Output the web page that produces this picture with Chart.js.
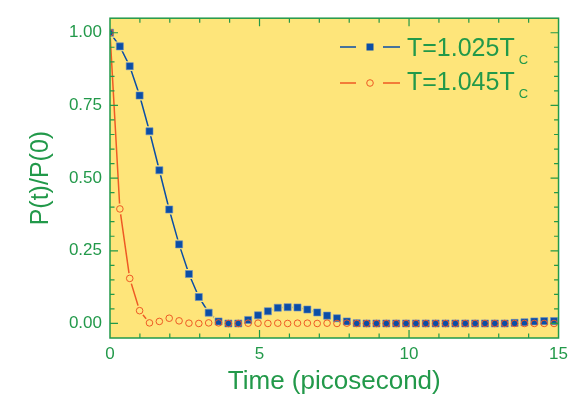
<!DOCTYPE html>
<html>
<head>
<meta charset="utf-8">
<script src="https://cdn.jsdelivr.net/npm/chart.js@4.4.1/dist/chart.umd.min.js"></script>
<style>
  html, body { margin: 0; padding: 0; background: #fff; }
</style>
</head>
<body>
<canvas id="myChart" width="574" height="399"></canvas>
<script>
// time axis (picosecond)
const times = [0, 0.33, 0.66, 0.99, 1.32, 1.65, 1.98, 2.31, 2.64, 2.97,
  3.3, 3.63, 3.96, 4.29, 4.62, 4.95, 5.28, 5.61, 5.94, 6.27,
  6.6, 6.93, 7.26, 7.59, 7.92, 8.25, 8.58, 8.91, 9.24, 9.57,
  9.9, 10.23, 10.56, 10.89, 11.22, 11.55, 11.88, 12.21, 12.54, 12.87,
  13.2, 13.53, 13.86, 14.19, 14.52, 14.85];

// T = 1.025 Tc
const pSlow = [1.00, 0.953, 0.885, 0.784, 0.661, 0.527, 0.392, 0.272, 0.170, 0.091,
  0.037, 0.007, 0.000, 0.000, 0.012, 0.028, 0.042, 0.054, 0.056, 0.055,
  0.048, 0.038, 0.027, 0.018, 0.007, 0.001, 0.000, 0.000, 0.000, 0.000,
  0.000, 0.000, 0.000, 0.000, 0.000, 0.000, 0.000, 0.000, 0.000, 0.000,
  0.000, 0.002, 0.004, 0.007, 0.008, 0.008];

// T = 1.045 Tc
const pFast = [1.00, 0.394, 0.155, 0.044, 0.002, 0.007, 0.018, 0.009, 0.001, 0.000,
  0.002, 0.002, 0.000, 0.000, 0.001, 0.001, 0.000, 0.001, 0.000, 0.001,
  0.001, 0.000, 0.001, 0.000, 0.001, 0.000, 0.000, 0.000, 0.000, 0.000,
  0.000, 0.000, 0.000, 0.000, 0.000, 0.000, 0.000, 0.000, 0.000, 0.000,
  0.000, 0.000, 0.000, 0.000, 0.000, 0.000];

const xTicks = [0, 5, 10, 15];
const yTicks = [0, 0.25, 0.5, 0.75, 1.0];
const seriesNames = ['T=1.025T', 'T=1.045T'];

const YELLOW = '#fee57a';
const GREEN = '#22994a';
const BLUE = '#0b4ea6';
const RED = '#ee5a24';
const FONT = "'Liberation Sans', Arial, sans-serif";

function pts(arr) {
  return times.map(function (t, i) { return {x: t, y: arr[i]}; });
}

// yellow plot area
const plotBg = {
  id: 'plotBg',
  beforeDraw(chart) {
    const {ctx, chartArea: a} = chart;
    ctx.save();
    ctx.fillStyle = YELLOW;
    ctx.fillRect(a.left, a.top, a.right - a.left, a.bottom - a.top);
    ctx.restore();
  }
};

// frame with inward ticks on all four sides
const frame = {
  id: 'frame',
  afterDatasetsDraw(chart) {
    const {ctx, chartArea: a, scales} = chart;
    const x = scales.x, y = scales.y;
    ctx.save();
    ctx.strokeStyle = GREEN;
    ctx.lineWidth = 1.5;
    ctx.strokeRect(a.left, a.top, a.right - a.left, a.bottom - a.top);
    ctx.lineWidth = 1.2;
    ctx.beginPath();
    for (let v = 1; v < 15; v++) {
      const px = x.getPixelForValue(v);
      const len = v % 5 === 0 ? 8 : 4.5;
      ctx.moveTo(px, a.bottom); ctx.lineTo(px, a.bottom - len);
      ctx.moveTo(px, a.top); ctx.lineTo(px, a.top + len);
    }
    for (let k = 0; k <= 20; k++) {
      const v = k * 0.05;
      const py = y.getPixelForValue(v);
      const len = k % 5 === 0 ? 8 : 4.5;
      ctx.moveTo(a.left, py); ctx.lineTo(a.left + len, py);
      ctx.moveTo(a.right, py); ctx.lineTo(a.right - len, py);
    }
    ctx.stroke();
    ctx.restore();
  }
};

// legend: line - symbol - line, then label with subscript C
const legendBox = {
  id: 'legendBox',
  afterDraw(chart) {
    const ctx = chart.ctx;
    const rows = [
      {y: 47, color: BLUE, style: 'rect', base: 56},
      {y: 83, color: RED, style: 'circle', base: 90}
    ];
    ctx.save();
    rows.forEach(function (r, i) {
      ctx.strokeStyle = r.color;
      ctx.lineWidth = 1.5;
      ctx.beginPath();
      ctx.moveTo(340, r.y); ctx.lineTo(356, r.y);
      ctx.moveTo(383, r.y); ctx.lineTo(400, r.y);
      ctx.stroke();
      if (r.style === 'rect') {
        ctx.fillStyle = r.color;
        ctx.fillRect(366.5, r.y - 3.5, 7, 7);
      } else {
        ctx.lineWidth = 1;
        ctx.beginPath();
        ctx.arc(370, r.y, 3.3, 0, Math.PI * 2);
        ctx.stroke();
      }
      ctx.fillStyle = GREEN;
      ctx.textBaseline = 'alphabetic';
      ctx.textAlign = 'left';
      ctx.font = '25px ' + FONT;
      ctx.fillText(seriesNames[i], 407, r.base);
      const w = ctx.measureText(seriesNames[i]).width;
      ctx.font = '13px ' + FONT;
      ctx.fillText('C', 407 + w + 4, r.base + 8);
    });
    ctx.restore();
  }
};

const ctx = document.getElementById('myChart');
new Chart(ctx, {
  type: 'line',
  data: {
    datasets: [{
      // blue line, yellow squares mask the line near each symbol
      data: pts(pSlow),
      borderColor: BLUE,
      borderWidth: 1.5,
      pointStyle: 'rect',
      pointRadius: 7,
      pointBackgroundColor: YELLOW,
      pointBorderWidth: 0,
      clip: 0,
      order: 4
    }, {
      data: pts(pFast),
      borderColor: RED,
      borderWidth: 1.5,
      pointStyle: 'circle',
      pointRadius: 5.5,
      pointBackgroundColor: YELLOW,
      pointBorderWidth: 0,
      clip: 0,
      order: 3
    }, {
      data: pts(pSlow),
      showLine: false,
      pointStyle: 'rect',
      pointRadius: 5,
      pointBackgroundColor: BLUE,
      pointBorderColor: '#6d8fc0',
      pointBorderWidth: 0.6,
      clip: 0,
      order: 2
    }, {
      data: pts(pFast),
      showLine: false,
      pointStyle: 'circle',
      pointRadius: 3.3,
      pointBackgroundColor: 'rgba(0,0,0,0)',
      pointBorderColor: RED,
      pointBorderWidth: 1,
      clip: 0,
      order: 1
    }]
  },
  options: {
    responsive: false,
    animation: false,
    layout: {padding: {left: 0, right: 13, top: 7, bottom: 0}},
    plugins: {
      legend: {display: false},
      tooltip: {enabled: false}
    },
    scales: {
      x: {
        type: 'linear',
        min: 0,
        max: 15,
        afterBuildTicks: function (s) { s.ticks = xTicks.map(function (v) { return {value: v}; }); },
        afterFit: function (s) { s.height = 61; },
        grid: {display: false, drawTicks: false},
        border: {display: false},
        ticks: {
          color: GREEN,
          padding: 6,
          maxRotation: 0,
          autoSkip: false,
          font: {family: FONT, size: 17}
        },
        title: {
          display: true,
          text: 'Time (picosecond)',
          color: GREEN,
          font: {family: FONT, size: 26},
          padding: {top: 0, bottom: 2}
        }
      },
      y: {
        min: -0.05,
        max: 1.05,
        afterBuildTicks: function (s) { s.ticks = yTicks.map(function (v) { return {value: v}; }); },
        afterFit: function (s) { s.width = 110; },
        grid: {display: false, drawTicks: false},
        border: {display: false},
        ticks: {
          color: GREEN,
          padding: 8,
          autoSkip: false,
          font: {family: FONT, size: 17},
          callback: function (v) { return Number(v).toFixed(2); }
        },
        title: {
          display: true,
          text: 'P(t)/P(0)',
          color: GREEN,
          font: {family: FONT, size: 25},
          padding: {top: 26, bottom: 0}
        }
      }
    }
  },
  plugins: [plotBg, frame, legendBox]
});
</script>
</body>
</html>
